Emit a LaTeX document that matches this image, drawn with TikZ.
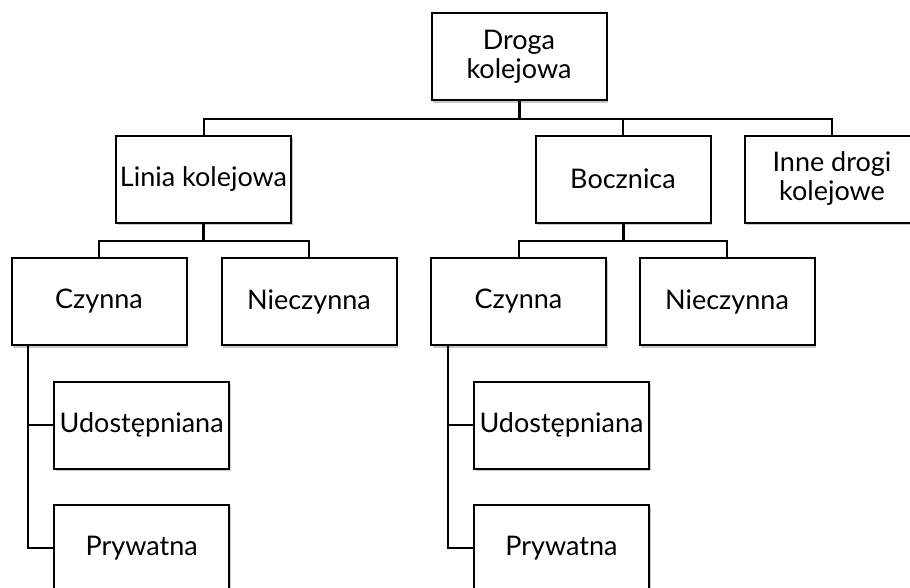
\documentclass[tikz,border=0pt]{standalone}
\usepackage{fontspec}
\setmainfont{Lato}
\usetikzlibrary{shadows,calc}
\begin{document}
\begin{tikzpicture}[x=1pt,y=-1pt,
  box/.style={draw=black, line width=2pt, fill=white, minimum width=175pt, minimum height=87pt,
    inner sep=2pt, align=center, font=\fontsize{27}{29}\selectfont,
    drop shadow={shadow xshift=1.5pt, shadow yshift=-2.5pt, opacity=0.22, fill=black}},
  stem/.style={line width=3pt},
  bar/.style={line width=2pt}]
\clip (0,0) rectangle (910,587);
\useasboundingbox (0,0) rectangle (910,587);
\fill[white] (0,0) rectangle (910,587);

\node[box] (droga) at (519,56.5) {Droga\\kolejowa};
\node[box] (linia) at (203.5,179) {Linia kolejowa};
\node[box] (bocz) at (623,179) {Bocznica};
\node[box] (inne) at (832,179) {Inne drogi\\kolejowe};

\node[box] (czl) at (99,301.5) {Czynna};
\node[box] (niel) at (309,301.5) {Nieczynna};
\node[box] (czb) at (518.5,301.5) {Czynna};
\node[box] (nieb) at (727,301.5) {Nieczynna};

\node[box] (udl) at (141.7,425) {Udostępniana};
\node[box] (prl) at (141.7,548) {Prywatna};
\node[box] (udb) at (561.5,425) {Udostępniana};
\node[box] (prb) at (561.5,548) {Prywatna};

% level 1
\draw[stem] (droga.south) -- ([yshift=-17.5pt]droga.south) coordinate (j0);
\draw[bar] (linia.north) |- (j0) -| (inne.north);
\draw[bar] (j0) -| (bocz.north);

% Linia children
\draw[stem] (linia.south) -- ([yshift=-17.5pt]linia.south) coordinate (j1);
\draw[bar] (czl.north) |- (j1) -| (niel.north);

% Bocznica children
\draw[stem] (bocz.south) -- ([yshift=-17.5pt]bocz.south) coordinate (j2);
\draw[bar] (czb.north) |- (j2) -| (nieb.north);

% Czynna (Linia) children
\coordinate (c1) at ([xshift=17.5pt]czl.south west);
\draw[bar] (c1) |- (udl.west);
\draw[bar] (c1) |- (prl.west);

% Czynna (Bocznica) children
\coordinate (c2) at ([xshift=17.5pt]czb.south west);
\draw[bar] (c2) |- (udb.west);
\draw[bar] (c2) |- (prb.west);
\end{tikzpicture}
\end{document}
